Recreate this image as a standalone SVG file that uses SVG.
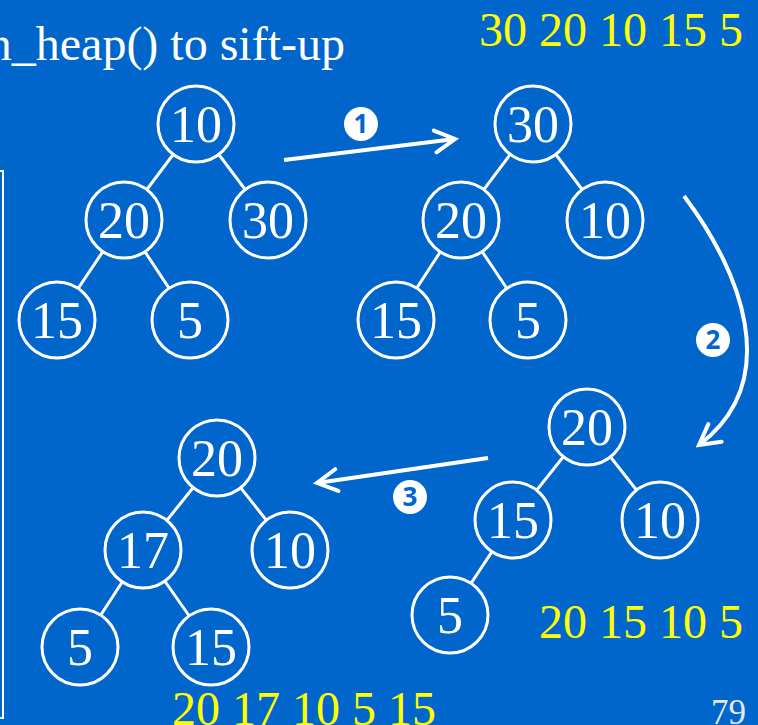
<svg xmlns="http://www.w3.org/2000/svg" width="758" height="725" viewBox="0 0 758 725">
<defs>
<style>
.bg{fill:#0066cc}
.edge{stroke:#fff;stroke-width:3;fill:none}
.node circle{fill:#0066cc;stroke:#fff;stroke-width:3}
.node text{fill:#fff;font-family:"Liberation Serif",serif;font-size:52px;text-anchor:middle}
.lbl{font-family:"Liberation Serif",serif;font-size:48px}
.arrow{stroke:#fff;stroke-width:4;fill:none;marker-end:url(#ah)}
.step circle{fill:#fff}
.step text{fill:#0066cc;font-family:"Open Sans","DejaVu Sans",sans-serif;font-weight:bold;font-size:26px;text-anchor:middle}
</style>
<marker id="ah" markerUnits="userSpaceOnUse" markerWidth="40" markerHeight="40" refX="0" refY="0" orient="auto" overflow="visible" viewBox="-30 -20 40 40">
<path d="M-20,-11 L0,0 L-20,11" stroke="#fff" stroke-width="4" fill="none" stroke-linecap="round" stroke-linejoin="miter"/>
</marker>
</defs>
<rect class="bg" x="0" y="0" width="758" height="725"/>
<path d="M0,171 H3 V718 H0" stroke="#fff" stroke-width="2" fill="none"/>
<text class="lbl" x="345" y="60" fill="#fff" text-anchor="end">n_heap() to sift-up</text>
<text class="lbl" x="743" y="46" fill="#ffff00" text-anchor="end">30 20 10 15 5</text>
<text class="lbl" x="743" y="638" fill="#ffff00" text-anchor="end">20 15 10 5</text>
<text class="lbl" x="172" y="725" fill="#ffff00">20 17 10 5 15</text>
<text x="746" y="724" fill="#e6e6e6" font-family="Liberation Serif,serif" font-size="35" text-anchor="end">79</text>
<g id="connectors">
<path class="edge" d="M196,124 L124,220 M196,124 L268,220 M124,220 L57,320 M124,220 L190,320"/>
<path class="edge" d="M533,124 L461,220 M533,124 L605,220 M461,220 L396,320 M461,220 L528,320"/>
<path class="edge" d="M587,427 L513,520 M587,427 L660,520 M513,520 L450,615"/>
<path class="edge" d="M217,458 L143,550 M217,458 L290,550 M143,550 L80,647 M143,550 L211,647"/>
<path class="arrow" d="M284,160 L455,139"/>
<path class="arrow" d="M684,196 C740,270 785,380 699,445"/>
<path class="arrow" d="M488,458 L317,483"/>
</g>
<g id="t1-10" class="node"><circle cx="196" cy="124" r="38"/><text x="196" y="142">10</text></g>
<g id="t1-20" class="node"><circle cx="124" cy="220" r="38"/><text x="124" y="238">20</text></g>
<g id="t1-30" class="node"><circle cx="268" cy="220" r="38"/><text x="268" y="238">30</text></g>
<g id="t1-15" class="node"><circle cx="57" cy="320" r="38"/><text x="57" y="338">15</text></g>
<g id="t1-5" class="node"><circle cx="190" cy="320" r="38"/><text x="190" y="338">5</text></g>
<g id="t2-30" class="node"><circle cx="533" cy="124" r="38"/><text x="533" y="142">30</text></g>
<g id="t2-20" class="node"><circle cx="461" cy="220" r="38"/><text x="461" y="238">20</text></g>
<g id="t2-10" class="node"><circle cx="605" cy="220" r="38"/><text x="605" y="238">10</text></g>
<g id="t2-15" class="node"><circle cx="396" cy="320" r="38"/><text x="396" y="338">15</text></g>
<g id="t2-5" class="node"><circle cx="528" cy="320" r="38"/><text x="528" y="338">5</text></g>
<g id="t3-20" class="node"><circle cx="587" cy="427" r="38"/><text x="587" y="445">20</text></g>
<g id="t3-15" class="node"><circle cx="513" cy="520" r="38"/><text x="513" y="538">15</text></g>
<g id="t3-10" class="node"><circle cx="660" cy="520" r="38"/><text x="660" y="538">10</text></g>
<g id="t3-5" class="node"><circle cx="450" cy="615" r="38"/><text x="450" y="633">5</text></g>
<g id="t4-20" class="node"><circle cx="217" cy="458" r="38"/><text x="217" y="476">20</text></g>
<g id="t4-17" class="node"><circle cx="143" cy="550" r="38"/><text x="143" y="568">17</text></g>
<g id="t4-10" class="node"><circle cx="290" cy="550" r="38"/><text x="290" y="568">10</text></g>
<g id="t4-5" class="node"><circle cx="80" cy="647" r="38"/><text x="80" y="665">5</text></g>
<g id="t4-15" class="node"><circle cx="211" cy="647" r="38"/><text x="211" y="665">15</text></g>
<g id="step1" class="step"><circle cx="361" cy="124" r="17"/><text x="361" y="133">1</text></g>
<g id="step2" class="step"><circle cx="713" cy="340" r="17"/><text x="713" y="349">2</text></g>
<g id="step3" class="step"><circle cx="410" cy="497" r="17"/><text x="410" y="506">3</text></g>
</svg>
